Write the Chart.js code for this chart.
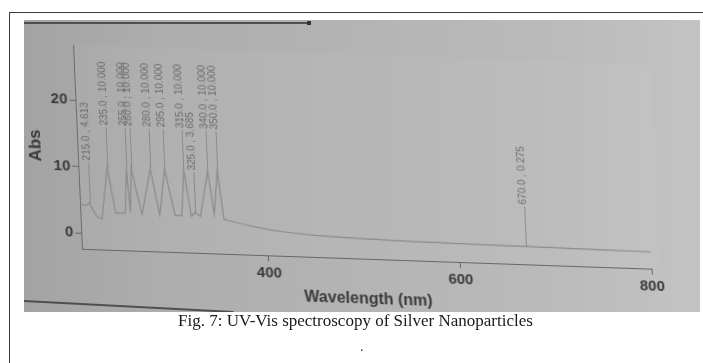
<!DOCTYPE html>
<html>
<head>
<meta charset="utf-8">
<title>UV-Vis spectroscopy of Silver Nanoparticles</title>
<script src="https://cdn.jsdelivr.net/npm/chart.js@4.4.1/dist/chart.umd.min.js"></script>
<style>
    html, body { margin: 0; padding: 0; background: #fff; width: 703px; height: 363px; overflow: hidden; }
    #frame { position: absolute; left: 9px; top: 12px; width: 720px; height: 400px; border: 1px solid #3a3a3a; box-sizing: border-box; }
    #photo {
        position: absolute; left: 24px; top: 20px; width: 676px; height: 292px; overflow: hidden;
        background: linear-gradient(90deg, #a3a3a3 0%, #adadad 20%, #b4b4b4 50%, #bbbbbb 80%, #c3c3c3 100%);
    }
    #photo canvas { position: absolute; left: 0; top: 0; transform-origin: 58px 229px; transform: skew(2.5deg, 2deg); }
    .edge { position: absolute; background: #4f4f4f; height: 2px; }
    #caption { position: absolute; left: 178px; top: 311px; font-family: "Liberation Serif", serif; font-size: 17px; line-height: 20px; color: #1a1a1a; white-space: nowrap; }
    #dot { position: absolute; left: 360px; top: 339px; font-family: "Liberation Serif", serif; font-size: 14px; color: #333; }
</style>
</head>
<body>
<div id="frame"></div>
<div id="photo">
    <div class="edge" style="left:0; top:2px; width:286px;"></div>
    <div class="edge" style="left:283px; top:1px; width:4px; height:4px; background:#333;"></div>
    <div class="edge" style="left:0; top:280px; width:210px; transform-origin:0 0; transform:rotate(3deg);"></div>
    <canvas id="uv-chart" width="676" height="292"></canvas>
</div>
<div id="caption">Fig. 7: UV-Vis spectroscopy of Silver Nanoparticles</div>
<div id="dot">.</div>

<script>
const wavelengths = [205, 210, 213, 215, 218, 222, 227.5, 235, 242, 252,
    255, 257.5, 260, 269.5, 280, 288, 295, 304, 311, 315,
    321, 325, 330.5, 340, 345, 350, 355, 360, 380, 400,
    425, 450, 475, 500, 550, 600, 650, 670, 700, 750, 800];
const absorbance = [4.3, 4.2, 4.3, 4.613, 3.6, 2.6, 2.2, 10, 3.2, 3.2,
    10, 3.4, 10, 3.1, 10, 3.1, 10, 3.1, 3.1, 10,
    3.1, 3.685, 3.1, 10, 3.5, 10, 2.8, 2.6, 2.0, 1.5,
    1.1, 0.85, 0.7, 0.6, 0.45, 0.36, 0.3, 0.275, 0.24, 0.18, 0.12];

// Pics annotés
const peakWl = [215, 235, 255, 260, 280, 295, 315, 325, 340, 350, 670];
const peakAbs = [4.613, 10, 10, 10, 10, 10, 10, 3.685, 10, 10, 0.275];

const xTicks = [400, 600, 800];
const yTicks = [0, 10, 20];

const fontFamily = '"Liberation Sans", Arial, sans-serif';
const textColor = '#3a3a3a';
const axisColor = '#666666';
const lineColor = '#8a8a8a';
const labelColor = '#6c6c6c';

const points = wavelengths.map((wl, i) => ({ x: wl, y: absorbance[i] }));
const peakText = peakWl.map((wl, i) => `${wl.toFixed(1)} , ${peakAbs[i].toFixed(3)}`);

// léger éclaircissement de la zone du graphe
const areaShade = {
    id: 'areaShade',
    beforeDatasetsDraw(chart) {
        const { ctx, chartArea } = chart;
        ctx.save();
        ctx.fillStyle = 'rgba(255,255,255,0.035)';
        ctx.fillRect(chartArea.left, chartArea.top, chartArea.right - chartArea.left + 8, chartArea.bottom - chartArea.top);
        ctx.restore();
    }
};

// étiquettes verticales "nm , Abs" au-dessus des pics
const peakLabels = {
    id: 'peakLabels',
    afterDatasetsDraw(chart) {
        const { ctx, scales: { x, y } } = chart;
        ctx.save();
        ctx.strokeStyle = lineColor;
        ctx.lineWidth = 1;
        ctx.fillStyle = labelColor;
        ctx.font = '10px ' + fontFamily;
        peakWl.forEach((wl, i) => {
            const px = Math.round(x.getPixelForValue(wl)) + 0.5;
            const py = y.getPixelForValue(peakAbs[i]);
            const top = py - 40;
            ctx.beginPath();
            ctx.moveTo(px, py);
            ctx.lineTo(px, top);
            ctx.stroke();
            ctx.save();
            ctx.translate(px + 1, top - 2);
            ctx.rotate(-Math.PI / 2);
            ctx.textAlign = 'left';
            ctx.textBaseline = 'alphabetic';
            ctx.fillText(peakText[i], 0, 0);
            ctx.restore();
        });
        ctx.restore();
    }
};

new Chart(document.getElementById('uv-chart'), {
    type: 'line',
    data: {
        datasets: [{
            data: points,
            borderColor: lineColor,
            borderWidth: 1.2,
            pointRadius: 0,
            tension: 0,
            fill: false
        }]
    },
    options: {
        responsive: false,
        animation: false,
        devicePixelRatio: 1,
        layout: { padding: { left: 0, right: 48, top: 25, bottom: 13 } },
        plugins: {
            legend: { display: false },
            tooltip: { enabled: false }
        },
        scales: {
            x: {
                type: 'linear',
                min: 205,
                max: 800,
                afterBuildTicks: s => { s.ticks = xTicks.map(v => ({ value: v })); },
                afterFit: s => { s.height = 50; },
                grid: { drawOnChartArea: false, drawTicks: true, tickLength: 6, color: axisColor },
                border: { color: axisColor, width: 1 },
                ticks: { color: textColor, padding: 3, maxRotation: 0, font: { family: fontFamily, size: 15, weight: 'bold' } },
                title: {
                    display: true,
                    text: 'Wavelength (nm)',
                    color: textColor,
                    padding: { top: 0, bottom: 0 },
                    font: { family: fontFamily, size: 16, weight: 'bold' }
                }
            },
            y: {
                min: -2.4,
                max: 28.3,
                afterBuildTicks: s => { s.ticks = yTicks.map(v => ({ value: v })); },
                afterFit: s => { s.width = 58; },
                grid: { drawOnChartArea: false, drawTicks: true, tickLength: 6, color: axisColor },
                border: { color: axisColor, width: 1 },
                ticks: { color: textColor, padding: 2, font: { family: fontFamily, size: 15, weight: 'bold' } },
                title: {
                    display: true,
                    text: 'Abs',
                    color: textColor,
                    padding: { top: 6, bottom: 0 },
                    font: { family: fontFamily, size: 17, weight: 'bold' }
                }
            }
        }
    },
    plugins: [areaShade, peakLabels]
});
</script>
</body>
</html>
